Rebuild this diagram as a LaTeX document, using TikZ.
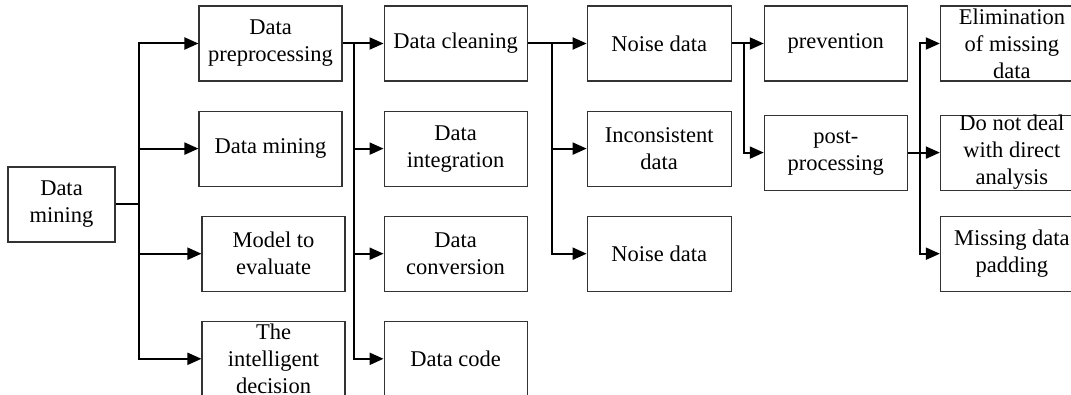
\documentclass[tikz,border=0pt]{standalone}
\usepackage{fontspec}
\setmainfont{Liberation Serif}
\usetikzlibrary{positioning,arrows.meta}

\begin{document}
\begin{tikzpicture}[x=1pt, y=1pt]
      \tikzstyle{box}=[rectangle, draw=black!80, line width=1.1pt, minimum width=143pt, minimum height=75pt, inner sep=0pt, align=center, font=\fontsize{22.5}{27}\selectfont]
      \tikzstyle{tall}=[box, inner ysep=-4pt]
      \tikzstyle{wide}=[box, minimum width=144pt]
      \tikzstyle{connect}=[-{Triangle[length=14pt, width=12pt]}, line width=2pt]
      \tikzstyle{trunk}=[line width=2pt]

      \useasboundingbox (0,0) rectangle (1071,-395);

      \node[box, minimum width=107pt] (root) at (61.5,-204.5) {Data\\mining};

      \node[box] (pre) at (270.5,-43.5) {Data\\preprocessing};
      \node[box] (mine) [below=29pt of pre] {Data mining};
      \node[box] (model) [below=29pt of mine, xshift=3pt] {Model to\\evaluate};
      \node[tall] (decide) [below=29pt of model] {The\\intelligent\\decision};

      \node[box] (clean) [right=41pt of pre] {Data cleaning};
      \node[box] (integ) [below=29pt of clean] {Data\\integration};
      \node[box] (conv) [below=29pt of integ] {Data\\conversion};
      \node[box] (code) [below=29pt of conv] {Data code};

      \node[wide] (noise) [right=59pt of clean] {Noise data};
      \node[wide] (incons) [below=29pt of noise] {Inconsistent\\data};
      \node[wide] (noisetwo) [below=29pt of incons] {Noise data};

      \node[box] (prev) [right=32pt of noise] {prevention};
      \node[box] (post) [below=33pt of prev] {post-\\processing};

      \node[tall] (elim) [right=32pt of prev] {Elimination\\of missing\\data};
      \node[tall] (nodeal) [below=33pt of elim] {Do not deal\\with direct\\analysis};
      \node[box] (pad) [below=25pt of nodeal] {Missing data\\padding};

      \coordinate (b0) at ([xshift=23pt]root.east);
      \coordinate (b1) at ([xshift=11pt]pre.east);
      \coordinate (b2) at ([xshift=24pt]clean.east);
      \coordinate (b3) at ([xshift=12pt]noise.east);
      \coordinate (b4) at ([xshift=12pt]post.east);

      \draw[trunk] (root) -- (b0);
      \draw[connect] (b0) |- (pre);
      \draw[connect] (b0) |- (mine);
      \draw[connect] (b0) |- (model);
      \draw[connect] (b0) |- (decide);

      \draw[trunk] (pre) -- (b1);
      \draw[connect] (b1) -- (clean);
      \draw[connect] (b1) |- (integ);
      \draw[connect] (b1) |- (conv);
      \draw[connect] (b1) |- (code);

      \draw[trunk] (clean) -- (b2);
      \draw[connect] (b2) -- (noise);
      \draw[connect] (b2) |- (incons);
      \draw[connect] (b2) |- (noisetwo);

      \draw[trunk] (noise) -- (b3);
      \draw[connect] (b3) -- (prev);
      \draw[connect] (b3) |- (post);

      \draw[trunk] (post) -- (b4);
      \draw[connect] (b4) |- (elim);
      \draw[connect] (b4) -- (nodeal);
      \draw[connect] (b4) |- (pad);
    \end{tikzpicture}
\end{document}
